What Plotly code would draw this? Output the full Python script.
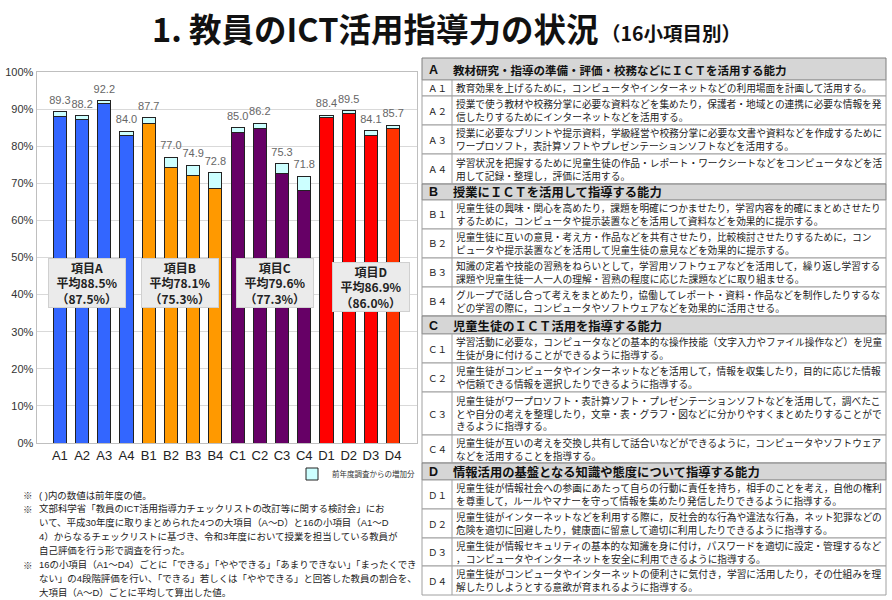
import plotly.graph_objects as go

# ---------------- data ----------------
CATS = ["A1", "A2", "A3", "A4", "B1", "B2", "B3", "B4",
        "C1", "C2", "C3", "C4", "D1", "D2", "D3", "D4"]
PREV = [88.1, 87.3, 91.6, 83.0, 86.2, 74.3, 72.0, 68.6,
        83.7, 84.7, 72.7, 68.0, 87.7, 88.7, 82.8, 84.7]
TOTAL = [89.3, 88.2, 92.2, 84.0, 87.7, 77.0, 74.9, 72.8,
         85.0, 86.2, 75.3, 71.8, 88.4, 89.5, 84.1, 85.7]
GROUPS = ["A", "B", "C", "D"]
AVG_NOW = [88.5, 78.1, 79.6, 86.9]
AVG_PREV = [87.5, 75.3, 77.3, 86.0]
LEGEND_NAME = "前年度調査からの増加分"

TITLE = "1. 教員のICT活用指導力の状況"
SUBTITLE = "（16小項目別）"

NOTES = [
    ("※", "( )内の数値は前年度の値。"),
    ("※", "文部科学省「教員のICT活用指導力チェックリストの改訂等に関する検討会」にお"),
    ("", "いて、平成30年度に取りまとめられた4つの大項目（A～D）と16の小項目（A1～D"),
    ("", "4）からなるチェックリストに基づき、令和3年度において授業を担当している教員が"),
    ("", "自己評価を行う形で調査を行った。"),
    ("※", "16の小項目（A1～D4）ごとに「できる」「ややできる」「あまりできない」「まったくでき"),
    ("", "ない」の4段階評価を行い、「できる」若しくは「ややできる」と回答した教員の割合を、"),
    ("", "大項目（A～D）ごとに平均して算出した値。"),
]

TABLE_HEADERS = [
    ("A", "教材研究・指導の準備・評価・校務などにＩＣＴを活用する能力"),
    ("B", "授業にＩＣＴを活用して指導する能力"),
    ("C", "児童生徒のＩＣＴ活用を指導する能力"),
    ("D", "情報活用の基盤となる知識や態度について指導する能力"),
]
ROW_LABELS = ["Ａ１", "Ａ２", "Ａ３", "Ａ４", "Ｂ１", "Ｂ２", "Ｂ３", "Ｂ４",
              "Ｃ１", "Ｃ２", "Ｃ３", "Ｃ４", "Ｄ１", "Ｄ２", "Ｄ３", "Ｄ４"]
ROW_TEXTS = [
    "教育効果を上げるために，コンピュータやインターネットなどの利用場面を計画して活用する。",
    "授業で使う教材や校務分掌に必要な資料などを集めたり，保護者・地域との連携に必要な情報を発<br>信したりするためにインターネットなどを活用する。",
    "授業に必要なプリントや提示資料，学級経営や校務分掌に必要な文書や資料などを作成するために<br>ワープロソフト，表計算ソフトやプレゼンテーションソフトなどを活用する。",
    "学習状況を把握するために児童生徒の作品・レポート・ワークシートなどをコンピュータなどを活<br>用して記録・整理し，評価に活用する。",
    "児童生徒の興味・関心を高めたり，課題を明確につかませたり，学習内容を的確にまとめさせたり<br>するために，コンピュータや提示装置などを活用して資料などを効果的に提示する。",
    "児童生徒に互いの意見・考え方・作品などを共有させたり，比較検討させたりするために，コン<br>ピュータや提示装置などを活用して児童生徒の意見などを効果的に提示する。",
    "知識の定着や技能の習熟をねらいとして，学習用ソフトウェアなどを活用して，繰り返し学習する<br>課題や児童生徒一人一人の理解・習熟の程度に応じた課題などに取り組ませる。",
    "グループで話し合って考えをまとめたり，協働してレポート・資料・作品などを制作したりするな<br>どの学習の際に，コンピュータやソフトウェアなどを効果的に活用させる。",
    "学習活動に必要な，コンピュータなどの基本的な操作技能（文字入力やファイル操作など）を児童<br>生徒が身に付けることができるように指導する。",
    "児童生徒がコンピュータやインターネットなどを活用して，情報を収集したり，目的に応じた情報<br>や信頼できる情報を選択したりできるように指導する。",
    "児童生徒がワープロソフト・表計算ソフト・プレゼンテーションソフトなどを活用して，調べたこ<br>とや自分の考えを整理したり，文章・表・グラフ・図などに分かりやすくまとめたりすることがで<br>きるように指導する。",
    "児童生徒が互いの考えを交換し共有して話合いなどができるように，コンピュータやソフトウェア<br>などを活用することを指導する。",
    "児童生徒が情報社会への参画にあたって自らの行動に責任を持ち，相手のことを考え，自他の権利<br>を尊重して，ルールやマナーを守って情報を集めたり発信したりできるように指導する。",
    "児童生徒がインターネットなどを利用する際に，反社会的な行為や違法な行為，ネット犯罪などの<br>危険を適切に回避したり，健康面に留意して適切に利用したりできるように指導する。",
    "児童生徒が情報セキュリティの基本的な知識を身に付け，パスワードを適切に設定・管理するなど<br>，コンピュータやインターネットを安全に利用できるように指導する。",
    "児童生徒がコンピュータやインターネットの便利さに気付き，学習に活用したり，その仕組みを理<br>解したりしようとする意欲が育まれるように指導する。",
]

# ---------------- styles ----------------
W, H = 892, 600
BAR_COLORS = ["#3366FF"] * 4 + ["#FF9900"] * 4 + ["#660066"] * 4 + ["#FF0000"] * 3 + ["#FF3300"]
INC_COLOR = "#CCFFFF"
CJK = "Noto Sans CJK JP"
LAT = "Liberation Sans, Noto Sans CJK JP"


def px(x):
    return x / W


def py(y):
    return 1 - y / H


inc = [round(t - p, 2) for t, p in zip(TOTAL, PREV)]

fig = go.Figure()
fig.add_trace(go.Bar(x=CATS, y=PREV, marker=dict(color=BAR_COLORS, line=dict(color="#222222", width=1)),
                     showlegend=False, hoverinfo="x+y"))
fig.add_trace(go.Bar(x=CATS, y=inc, name=LEGEND_NAME,
                     marker=dict(color=INC_COLOR, line=dict(color="#222222", width=1)),
                     showlegend=True))
fig.add_trace(go.Scatter(x=CATS, y=TOTAL, mode="markers+text", text=[f"{v:.1f}" for v in TOTAL],
                         textposition="top center", cliponaxis=False,
                         marker=dict(size=7, color="rgba(0,0,0,0)"),
                         textfont=dict(family=LAT, size=11, color="#666666"),
                         showlegend=False, hoverinfo="skip"))

annotations = []
shapes = []

# title
annotations.append(dict(xref="paper", yref="paper", x=px(150), y=py(28), xanchor="left", yanchor="middle",
                        text="<b>" + TITLE + "</b>", showarrow=False,
                        font=dict(family=CJK, size=32.5, color="#111111")))
annotations.append(dict(xref="paper", yref="paper", x=px(599), y=py(32), xanchor="left", yanchor="middle",
                        text="<b>" + SUBTITLE + "</b>", showarrow=False,
                        font=dict(family=CJK, size=19.5, color="#111111")))

# group boxes
BOX_POS = [(87, 283), (180, 283), (274.5, 283), (371, 287)]
for g, now, prev, (bx, by) in zip(GROUPS, AVG_NOW, AVG_PREV, BOX_POS):
    annotations.append(dict(xref="paper", yref="paper", x=px(bx), y=py(by), xanchor="center", yanchor="middle",
                            text=f"<b>項目{g}</b><br><b>平均{now:.1f}%</b><br><b>（{prev:.1f}%）</b>",
                            showarrow=False, align="center", width=74, height=46, borderpad=1,
                            bgcolor="#EBEBEB", bordercolor="#D0D0D0", borderwidth=1,
                            font=dict(family=CJK, size=12, color="#222222")))

# notes
NOTE_Y0, NOTE_DY = 495, 13.9
for i, (mark, line) in enumerate(NOTES):
    yy = NOTE_Y0 + i * NOTE_DY
    if mark:
        annotations.append(dict(xref="paper", yref="paper", x=px(21), y=py(yy), xanchor="left", yanchor="middle",
                                text=mark, showarrow=False, font=dict(family=CJK, size=9.5, color="#333333")))
    annotations.append(dict(xref="paper", yref="paper", x=px(37), y=py(yy), xanchor="left", yanchor="middle",
                            text=line, showarrow=False, font=dict(family=LAT, size=9.45, color="#222222")))

# table
TX0, TX1, TXL = 422, 886, 452
ROW_HEIGHTS = [22, 16, 29, 29, 30, 16, 29, 29, 29, 29, 18, 29, 29, 43, 28, 17, 29, 29, 28, 29]
y = 58
ri = 0
hi = 0
for k, h in enumerate(ROW_HEIGHTS):
    y0, y1 = y, y + h
    is_header = k in (0, 5, 10, 15)
    if is_header:
        letter, txt = TABLE_HEADERS[hi]
        hi += 1
        shapes.append(dict(type="rect", xref="paper", yref="paper", x0=px(TX0), x1=px(TX1), y0=py(y1), y1=py(y0),
                           fillcolor="#D6D6D6", line=dict(color="#7F7F7F", width=1), layer="below"))
        annotations.append(dict(xref="paper", yref="paper", x=px(427), y=py((y0 + y1) / 2 + 0.5), xanchor="left",
                                yanchor="middle", text="<b>" + letter + "</b>", showarrow=False,
                                font=dict(family=LAT, size=12.5, color="#111111")))
        annotations.append(dict(xref="paper", yref="paper", x=px(451), y=py((y0 + y1) / 2 + 0.5), xanchor="left",
                                yanchor="middle", text="<b>" + txt + "</b>", showarrow=False,
                                font=dict(family=CJK, size=12.3 if hi > 1 else 11.5, color="#111111")))
    else:
        shapes.append(dict(type="rect", xref="paper", yref="paper", x0=px(TX0), x1=px(TX1), y0=py(y1), y1=py(y0),
                           fillcolor="#FFFFFF", line=dict(color="#A0A0A0", width=1), layer="below"))
        shapes.append(dict(type="line", xref="paper", yref="paper", x0=px(TXL), x1=px(TXL), y0=py(y1), y1=py(y0),
                           line=dict(color="#A0A0A0", width=1)))
        annotations.append(dict(xref="paper", yref="paper", x=px(437), y=py((y0 + y1) / 2), xanchor="center",
                                yanchor="middle", text=ROW_LABELS[ri], showarrow=False,
                                font=dict(family=CJK, size=9.5, color="#222222")))
        annotations.append(dict(xref="paper", yref="paper", x=px(454), y=py((y0 + y1) / 2), xanchor="left",
                                yanchor="middle", text=ROW_TEXTS[ri], showarrow=False, align="left",
                                font=dict(family=CJK, size=9.7, color="#222222")))
        ri += 1
    y = y1

fig.update_layout(
    width=W, height=H, margin=dict(l=0, r=0, t=0, b=0, autoexpand=False),
    paper_bgcolor="white", plot_bgcolor="white",
    barmode="stack", bargap=0.41,
    xaxis=dict(domain=[px(36.5), px(416.5)], type="category", showgrid=False, showline=True, mirror=True,
               linecolor="#BFBFBF", linewidth=1, ticks="", fixedrange=True, automargin=False,
               tickfont=dict(family=LAT, size=13, color="#222222")),
    yaxis=dict(domain=[py(443), py(72)], range=[0, 100], dtick=10, ticksuffix="%", showgrid=True,
               gridcolor="#D9D9D9", gridwidth=1, showline=True, mirror=True, linecolor="#BFBFBF",
               zeroline=False, ticks="", automargin=False,
               tickfont=dict(family=LAT, size=11, color="#333333")),
    legend=dict(x=px(292), y=py(474), xanchor="left", yanchor="middle", bgcolor="rgba(0,0,0,0)",
                font=dict(family=CJK, size=7.5, color="#333333"), itemwidth=30),
    annotations=annotations, shapes=shapes,
)

fig.write_html("out.html")
